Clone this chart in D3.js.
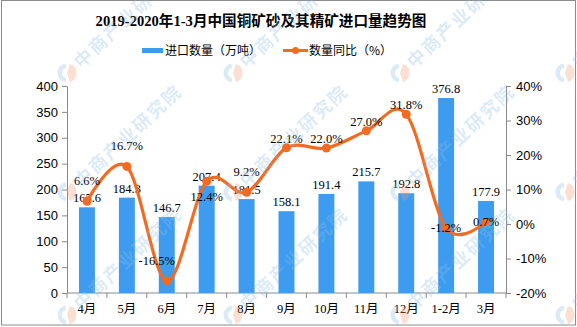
<!DOCTYPE html>
<meta charset="utf-8">
<script src="https://d3js.org/d3.v7.min.js"></script>
<style>
    body { margin: 0; background: #fff; }
    svg { display: block; }
    .axis text { font-family: "Liberation Sans", Arial, sans-serif; font-size: 13px; fill: #000; }
    .axis path, .axis line { stroke: #898989; }
    .xaxis text { font-family: "Liberation Serif", "Noto Sans CJK SC", serif; font-size: 12.5px; }
    .lbl { font-family: "Liberation Serif", "Noto Sans CJK SC", serif; font-size: 12.5px; fill: #000; }
</style>
<svg width="577" height="327"></svg>
<script>
    // months and the two series
    var months = ["4月", "5月", "6月", "7月", "8月", "9月", "10月", "11月", "12月", "1-2月", "3月"];
    var importQty = [165.6, 184.3, 146.7, 207.4, 181.5, 158.1, 191.4, 215.7, 192.8, 376.8, 177.9];
    var yoyPct = [6.6, 16.7, -16.5, 12.4, 9.2, 22.1, 22.0, 27.0, 31.8, -1.2, 0.7];
    // where each yoy label sits relative to its point
    var pctPlace = ["high", "high", "highleft", "below", "high", "above", "above", "above", "above", "center", "center"];
    var leftTicks = [0, 50, 100, 150, 200, 250, 300, 350, 400];
    var rightTicks = [-20, -10, 0, 10, 20, 30, 40];

    var barColor = "#3d9cf0",
        lineColor = "#f26b21";

    var svg = d3.select("svg");

    var x = d3.scaleBand().domain(months).range([67, 506]).paddingInner(0.6).paddingOuter(0.3);
    var xb = d3.scaleBand().domain(months).range([67, 506]);
    var yL = d3.scaleLinear().domain([0, 400]).range([293, 86]);
    var yR = d3.scaleLinear().domain([-20, 40]).range([293, 86]);

    // outer frame
    svg.append("rect")
        .attr("x", 1.5).attr("y", 0.5)
        .attr("width", 574).attr("height", 324.5)
        .attr("fill", "none").attr("stroke", "#8c8c8c");

    // title
    svg.append("text")
        .attr("x", 261).attr("y", 26)
        .attr("text-anchor", "middle")
        .attr("font-family", "'Liberation Serif', 'Noto Sans CJK SC', serif")
        .attr("font-weight", "bold")
        .attr("font-size", "14.6px")
        .text("2019-2020年1-3月中国铜矿砂及其精矿进口量趋势图");

    // legend
    var lg = svg.append("g").attr("font-family", "'Noto Sans CJK SC', sans-serif").attr("font-size", "12px");
    lg.append("rect").attr("x", 142).attr("y", 48).attr("width", 21).attr("height", 5).attr("fill", barColor);
    lg.append("text").attr("x", 165).attr("y", 55).text("进口数量（万吨）");
    lg.append("line").attr("x1", 283).attr("x2", 308).attr("y1", 50.5).attr("y2", 50.5)
        .attr("stroke", lineColor).attr("stroke-width", 3);
    lg.append("circle").attr("cx", 295.5).attr("cy", 50.5).attr("r", 3.5).attr("fill", lineColor);
    lg.append("text").attr("x", 309).attr("y", 55).text("数量同比（%）");

    // axes
    svg.append("g").attr("class", "axis")
        .attr("transform", "translate(67,0)")
        .call(d3.axisLeft(yL).tickValues(leftTicks).tickSize(5).tickPadding(4).tickSizeOuter(0));

    svg.append("g").attr("class", "axis")
        .attr("transform", "translate(506,0)")
        .call(d3.axisRight(yR).tickValues(rightTicks).tickSize(5).tickPadding(5).tickSizeOuter(0)
            .tickFormat(function(d) { return d + "%"; }));

    var xa = svg.append("g").attr("class", "axis xaxis").attr("transform", "translate(0,293)");
    xa.append("line").attr("x1", 67).attr("x2", 506).attr("stroke", "#898989");
    xa.selectAll(".tk")
        .data(months.concat(["end"]))
        .enter().append("line")
        .attr("x1", function(d, i) { return 67 + i * xb.step(); })
        .attr("x2", function(d, i) { return 67 + i * xb.step(); })
        .attr("y1", 0).attr("y2", 5)
        .attr("stroke", "#898989");
    xa.selectAll(".ml")
        .data(months)
        .enter().append("text")
        .attr("x", function(d) { return xb(d) + xb.bandwidth() / 2; })
        .attr("y", 20)
        .attr("text-anchor", "middle")
        .text(function(d) { return d; });

    // bars
    svg.append("g").selectAll("rect")
        .data(importQty)
        .enter().append("rect")
        .attr("x", function(d, i) { return x(months[i]); })
        .attr("width", x.bandwidth())
        .attr("y", function(d) { return yL(d); })
        .attr("height", function(d) { return yL(0) - yL(d); })
        .attr("fill", barColor);

    svg.append("g").selectAll("text")
        .data(importQty)
        .enter().append("text")
        .attr("class", "lbl")
        .attr("x", function(d, i) { return xb(months[i]) + xb.bandwidth() / 2; })
        .attr("y", function(d) { return yL(d) - 5; })
        .attr("text-anchor", "middle")
        .text(function(d) { return d.toFixed(1); });

    // smoothed yoy line
    var cx = function(d, i) { return xb(months[i]) + xb.bandwidth() / 2; };
    var line = d3.line()
        .x(cx)
        .y(function(d) { return yR(d); })
        .curve(d3.curveCardinal.tension(0));

    svg.append("path")
        .datum(yoyPct)
        .attr("d", line)
        .attr("fill", "none")
        .attr("stroke", lineColor)
        .attr("stroke-width", 3.2);

    svg.append("g").selectAll("circle")
        .data(yoyPct)
        .enter().append("circle")
        .attr("cx", cx)
        .attr("cy", function(d) { return yR(d); })
        .attr("r", 4.5)
        .attr("fill", lineColor);

    svg.append("g").selectAll("text")
        .data(yoyPct)
        .enter().append("text")
        .attr("class", "lbl")
        .attr("x", function(d, i) { return cx(d, i) - (pctPlace[i] === "highleft" ? 10 : 0); })
        .attr("y", function(d, i) {
            var p = pctPlace[i];
            if (p === "below") return yR(d) + 20;
            if (p === "center") return yR(d) + 4;
            if (p === "above") return yR(d) - 5;
            return yR(d) - 16;
        })
        .attr("text-anchor", "middle")
        .text(function(d) { return d.toFixed(1) + "%"; });

    // faint watermark grid
    var wmX = [67, 233, 400, 565],
        wmY = [73, 192, 315];
    var wm = svg.append("g").attr("opacity", 0.32).attr("pointer-events", "none");
    wmX.forEach(function(px) {
        wmY.forEach(function(py) {
            var g = wm.append("g").attr("transform", "translate(" + px + "," + py + ")");
            g.append("path")
                .attr("d", d3.arc()({ innerRadius: 5, outerRadius: 9.5, startAngle: Math.PI * 1.05, endAngle: Math.PI * 1.95 }))
                .attr("fill", "#8fbde6");
            g.append("path")
                .attr("d", d3.arc()({ innerRadius: 0, outerRadius: 9.5, startAngle: Math.PI * 0.1, endAngle: Math.PI * 0.9 }))
                .attr("fill", "#f29a73");
            g.append("text")
                .attr("transform", "rotate(-43) translate(13,7)")
                .attr("font-family", "'Noto Sans CJK SC', sans-serif")
                .attr("font-weight", "bold")
                .attr("font-size", "18px")
                .attr("letter-spacing", "2px")
                .attr("fill", "#8fbde6")
                .text("中商产业研究院");
        });
    });
</script>
